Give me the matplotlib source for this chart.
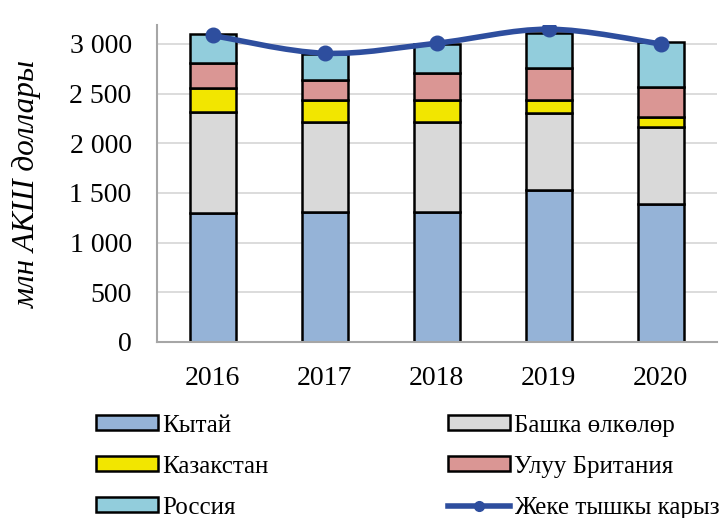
import matplotlib
matplotlib.use("Agg")
import matplotlib.pyplot as plt
import numpy as np
from matplotlib.path import Path
from matplotlib.patches import PathPatch, Patch
from matplotlib.lines import Line2D
from matplotlib.ticker import FuncFormatter

# data (млн АКШ доллары)
years = ["2016", "2017", "2018", "2019", "2020"]
china = [1295, 1312, 1312, 1530, 1386]
other = [1017, 906, 906, 779, 775]
kazakhstan = [245, 219, 219, 128, 108]
uk = [249, 197, 275, 318, 295]
russia = [295, 266, 288, 359, 460]
private_debt = [3085, 2906, 3007, 3148, 3000]

series_names = ["Кытай", "Башка өлкөлөр", "Казакстан", "Улуу Британия", "Россия"]
series_values = [china, other, kazakhstan, uk, russia]
colors = ["#95B3D7", "#D9D9D9", "#F2E600", "#DA9694", "#92CDDC"]
line_color = "#2E4E9E"

plt.rcParams["font.family"] = ["Liberation Serif", "DejaVu Serif"]
fs = 20

fig = plt.figure(figsize=(7.24, 5.18), dpi=100)
ax = fig.add_axes([0.2164, 0.3398, 0.7736, 0.6119])

x = np.arange(len(years))
bottom = np.zeros(len(years))
for name, vals, col in zip(series_names, series_values, colors):
    ax.bar(x, vals, width=0.41, bottom=bottom, color=col, edgecolor="black",
           linewidth=1.8, zorder=2)
    bottom += np.array(vals)

# smoothed line (bezier through the points)
pts = np.column_stack([x, private_debt]).astype(float)
ext = np.vstack([pts[0], pts, pts[-1]])
verts = [tuple(pts[0])]
codes = [Path.MOVETO]
for i in range(len(pts) - 1):
    p0, p1, p2, p3 = ext[i], ext[i + 1], ext[i + 2], ext[i + 3]
    c1 = p1 + (p2 - p0) / 6
    c2 = p2 - (p3 - p1) / 6
    verts += [tuple(c1), tuple(c2), tuple(p2)]
    codes += [Path.CURVE4] * 3
ax.add_patch(PathPatch(Path(verts, codes), facecolor="none", edgecolor=line_color,
                       linewidth=4, zorder=4, capstyle="round"))
ax.plot(x, private_debt, linestyle="none", marker="o", markersize=10.5,
        color=line_color, zorder=5)

ax.set_xlim(-0.5, 4.5)
ax.set_ylim(0, 3190)
ax.set_yticks(range(0, 3001, 500))
ax.yaxis.set_major_formatter(FuncFormatter(lambda v, p: f"{int(v):,}".replace(",", " ")))
ax.set_xticks(x)
ax.set_xticklabels(years)
ax.tick_params(axis="both", length=0, labelsize=fs, colors="black")
ax.tick_params(axis="x", pad=17)
ax.tick_params(axis="y", pad=18)
ax.grid(axis="y", color="#D9D9D9", linewidth=1.3, zorder=0)
ax.set_axisbelow(True)
for s in ["top", "right"]:
    ax.spines[s].set_visible(False)
for s in ["left", "bottom"]:
    ax.spines[s].set_color("#A6A6A6")
    ax.spines[s].set_linewidth(1.5)

ax.set_ylabel("млн АКШ доллары", fontsize=22.5, style="italic", labelpad=20)

handles = [Patch(facecolor=c, edgecolor="black", linewidth=1.8) for c in colors]
handles.append(Line2D([], [], color=line_color, linewidth=4, marker="o", markersize=7))
labels = series_names + ["Жеке тышкы карыз"]
order = [0, 2, 4, 1, 3, 5]
fig.legend([handles[i] for i in order], [labels[i] for i in order], ncol=2,
           loc="upper left", bbox_to_anchor=(0.1188, 0.219), frameon=False,
           fontsize=18, handlelength=2.48, handleheight=0.55, handletextpad=0.15,
           columnspacing=7.2, labelspacing=0.765, borderaxespad=0)

fig.savefig("out.png", dpi=100)
